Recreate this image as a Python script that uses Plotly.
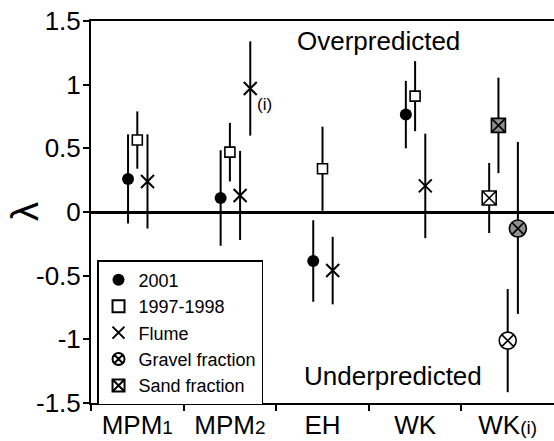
import plotly.graph_objects as go

# Models on the x axis
categories = ["MPM1", "MPM2", "EH", "WK", "WK(i)"]
category_labels = [
    "MPM<span style='font-size:19px'>1</span>",
    "MPM<span style='font-size:19px'>2</span>",
    "EH",
    "WK",
    "WK<span style='font-size:19px'>(i)</span>",
]

# lambda values with error half-widths
y2001_models = ["MPM1", "MPM2", "EH", "WK"]
y2001_vals = [0.26, 0.11, -0.385, 0.765]
y2001_err = [0.35, 0.375, 0.32, 0.265]

y9798_models = ["MPM1", "MPM2", "EH", "WK"]
y9798_vals = [0.565, 0.47, 0.34, 0.91]
y9798_err = [0.225, 0.23, 0.33, 0.275]

flume_models = ["MPM1", "MPM2", "EH", "WK"]
flume_vals = [0.24, 0.13, -0.46, 0.205]
flume_err = [0.37, 0.35, 0.265, 0.41]

flume_i_models = ["MPM2"]
flume_i_vals = [0.97]
flume_i_err = [0.37]

gravel_models = ["WK(i)", "WK(i)"]
gravel_vals = [-1.01, -0.13]
gravel_err_plus = [0.405, 0.68]
gravel_err_minus = [0.405, 0.67]

sand_models = ["WK(i)", "WK(i)"]
sand_vals = [0.11, 0.68]
sand_err = [0.275, 0.375]

# horizontal placement of each series inside its category slot
OFF_2001 = -0.10
OFF_9798 = 0.0
OFF_FLUME = 0.11
OFF_FLUME_I = 0.22
OFF_SAND = [-0.20, -0.10]
OFF_GRAVEL = [0.0, 0.11]

FILLS = ["white", "#8f8f8f"]
FONT = "Liberation Sans, Arial, sans-serif"


def xpos(models, offset):
    offs = offset if isinstance(offset, list) else [offset] * len(models)
    return [categories.index(m) + o for m, o in zip(models, offs)]


def err(plus, minus=None):
    return dict(type="data", array=plus, arrayminus=minus if minus else plus,
                symmetric=minus is None, color="black", thickness=2, width=0)


fig = go.Figure()

fig.add_trace(go.Scatter(
    x=xpos(y2001_models, OFF_2001), y=y2001_vals, mode="markers", name="2001",
    error_y=err(y2001_err),
    marker=dict(symbol="circle", size=12, color="black"),
))
fig.add_trace(go.Scatter(
    x=xpos(y9798_models, OFF_9798), y=y9798_vals, mode="markers", name="1997-1998",
    error_y=err(y9798_err),
    marker=dict(symbol="square", size=10, color="white",
                line=dict(color="black", width=1.6)),
))
fig.add_trace(go.Scatter(
    x=xpos(flume_models, OFF_FLUME), y=flume_vals, mode="markers", name="Flume",
    error_y=err(flume_err),
    marker=dict(symbol="x-thin", size=13, color="black",
                line=dict(color="black", width=2)),
))
fig.add_trace(go.Scatter(
    x=xpos(flume_i_models, OFF_FLUME_I), y=flume_i_vals, mode="markers",
    name="Flume (i)", showlegend=False,
    error_y=err(flume_i_err),
    marker=dict(symbol="x-thin", size=13, color="black",
                line=dict(color="black", width=2)),
))
fig.add_trace(go.Scatter(
    x=xpos(gravel_models, OFF_GRAVEL), y=gravel_vals, mode="markers",
    name="Gravel fraction",
    error_y=err(gravel_err_plus, gravel_err_minus),
    marker=dict(symbol="circle-x", size=17, color=FILLS,
                line=dict(color="black", width=1.6)),
))
fig.add_trace(go.Scatter(
    x=xpos(sand_models, OFF_SAND), y=sand_vals, mode="markers",
    name="Sand fraction",
    error_y=err(sand_err),
    marker=dict(symbol="square-x", size=14, color=FILLS,
                line=dict(color="black", width=1.6)),
))

# tick marks at the category boundaries come from a second, label-free axis
fig.add_trace(go.Scatter(x=[None], y=[None], xaxis="x2", yaxis="y",
                         showlegend=False, hoverinfo="skip"))

ytick_vals = [1.5, 1, 0.5, 0, -0.5, -1, -1.5]
ytick_text = ["1.5", "1", "0.5", "0", "-0.5", "-1", "-1.5"]

fig.update_layout(
    width=554, height=441,
    margin=dict(l=91, r=0, t=21, b=38, autoexpand=False),
    paper_bgcolor="white", plot_bgcolor="white",
    font=dict(family=FONT, color="black"),
    xaxis=dict(
        range=[-0.5, 4.5], tickvals=list(range(len(categories))),
        ticktext=category_labels, tickfont=dict(size=26),
        ticks="", ticklabelstandoff=-2,
        showline=True, linecolor="black", linewidth=2, mirror=True,
        showgrid=False, zeroline=False, automargin=False,
    ),
    xaxis2=dict(
        overlaying="x", matches="x", anchor="y", side="bottom",
        tickvals=[i - 0.5 for i in range(len(categories))],
        showticklabels=False, ticks="outside", ticklen=7, tickwidth=2,
        tickcolor="black", showline=False, showgrid=False, zeroline=False,
        automargin=False,
    ),
    yaxis=dict(
        range=[-1.5, 1.5], tickvals=ytick_vals, ticktext=ytick_text,
        tickfont=dict(size=26), ticks="outside", ticklen=6, tickwidth=2,
        ticklabelstandoff=-3,
        tickcolor="black", showline=True, linecolor="black", linewidth=2,
        showgrid=False, zeroline=True, zerolinecolor="black", zerolinewidth=3,
        automargin=False,
    ),
    legend=dict(
        x=0.013, y=0.374, xanchor="left", yanchor="top",
        bgcolor="white", bordercolor="black", borderwidth=1.5,
        font=dict(size=18, family=FONT), tracegroupgap=0,
        itemsizing="constant",
    ),
    showlegend=True,
)

fig.add_annotation(text="Overpredicted", x=2.6, y=1.34, xref="x", yref="y",
                   showarrow=False, font=dict(size=26))
fig.add_annotation(text="Underpredicted", x=2.76, y=-1.29, xref="x", yref="y",
                   showarrow=False, font=dict(size=26))
fig.add_annotation(text="(i)", x=xpos(flume_i_models, OFF_FLUME_I)[0],
                   y=flume_i_vals[0], xref="x", yref="y", xanchor="left",
                   xshift=5, yshift=-16, showarrow=False, font=dict(size=17))
fig.add_annotation(text="λ", x=-0.1425, y=0, xref="paper", yref="y",
                   xanchor="center", yanchor="middle",
                   textangle=-90, showarrow=False, font=dict(size=38))

fig.write_html("out.html")
